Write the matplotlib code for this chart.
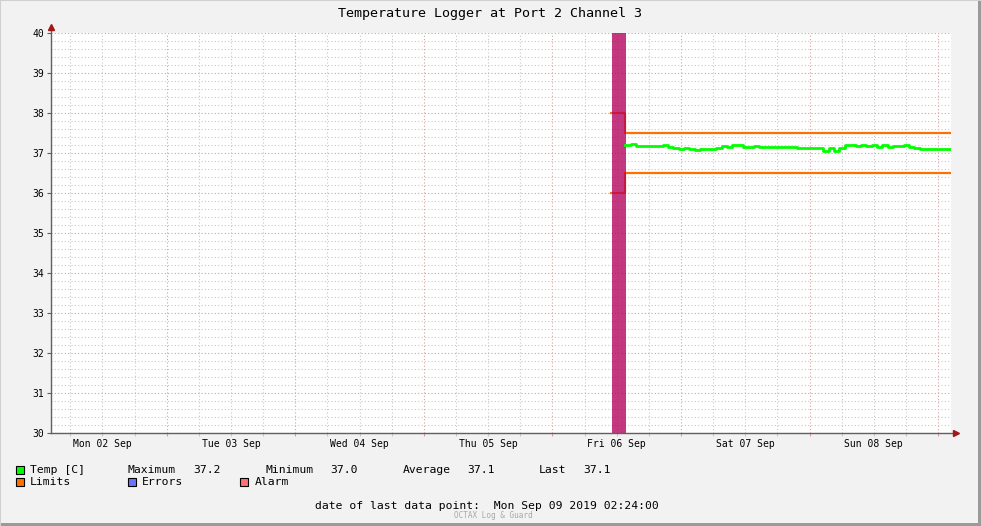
import datetime as dt

import matplotlib
matplotlib.use("Agg")
import matplotlib.pyplot as plt
import matplotlib.dates as mdates
from matplotlib.patches import Rectangle
from matplotlib.ticker import MultipleLocator, FuncFormatter, NullFormatter
import pandas as pd


# -----------------------------
# Data
# -----------------------------
TITLE = "Temperature Logger at Port 2 Channel 3"
T_START = dt.datetime(2019, 9, 2, 2, 24)
T_END = dt.datetime(2019, 9, 9, 2, 24)

# temperature, roughly hourly from Fri 06 Sep 13:35
temp_start = dt.datetime(2019, 9, 6, 13, 35)
temp_values = [
    37.21, 37.22, 37.18, 37.17, 37.17, 37.18, 37.17, 37.21, 37.15, 37.12,
    37.11, 37.12, 37.11, 37.07, 37.10, 37.09, 37.10, 37.12, 37.17, 37.16,
    37.19, 37.20, 37.15, 37.15, 37.17, 37.16, 37.15, 37.16, 37.14, 37.16,
    37.15, 37.14, 37.12, 37.13, 37.12, 37.13, 37.12, 37.04, 37.12, 37.05,
    37.12, 37.19, 37.20, 37.18, 37.19, 37.18, 37.19, 37.16, 37.19, 37.15,
    37.18, 37.17, 37.19, 37.16, 37.12, 37.11, 37.10, 37.11, 37.10, 37.11,
    37.10, 37.10,
]

# limits (step lines)
limit_times = [dt.datetime(2019, 9, 6, 10, 57), dt.datetime(2019, 9, 6, 13, 28), T_END]
limit_upper = [38.0, 37.5, 37.5]
limit_lower = [36.0, 36.5, 36.5]

# alarm period (vertical band)
alarm_start = dt.datetime(2019, 9, 6, 11, 5)
alarm_end = dt.datetime(2019, 9, 6, 13, 42)

legend_stats = ["Maximum", "37.2", "Minimum", "37.0", "Average", "37.1", "Last", "37.1"]
last_point = "date of last data point:  Mon Sep 09 2019 02:24:00"

# -----------------------------
# Styles
# -----------------------------
W, H = 981, 526
BG = "#F2F2F2"
C_TEMP = "#00FF00"
C_LIMIT = "#FF7000"
C_ERR = "#7070FF"
C_ALARM = "#FF7070"
C_BAND = "#B4005C"
C_MAJGRID = "#D8A0A0"
C_MINGRID = "#C8C8C8"
C_AXIS = "#606060"
C_ARROW = "#A01818"
FONT = "DejaVu Sans Mono"

plt.rcParams["font.family"] = FONT


def fx(px):
    return px / W


def fy(py):
    return 1 - py / H


def main():
    fig = plt.figure(figsize=(W / 100, H / 100), dpi=100, facecolor=BG)
    ax = fig.add_axes([fx(51), fy(433), 900 / W, 400 / H])
    ax.set_facecolor("white")

    temp_times = pd.date_range(temp_start, periods=len(temp_values), freq="60min")

    ax.plot(limit_times, limit_upper, color=C_LIMIT, lw=1.6, drawstyle="steps-post", zorder=3)
    ax.plot(limit_times, limit_lower, color=C_LIMIT, lw=1.6, drawstyle="steps-post", zorder=3)
    ax.axvspan(alarm_start, alarm_end, color=C_BAND, alpha=0.78, lw=0, zorder=4)
    ax.plot(temp_times, temp_values, color=C_TEMP, lw=2.0, drawstyle="steps-post", zorder=5)

    ax.set_xlim(T_START, T_END)
    ax.set_ylim(30, 40)

    # y axis
    ax.yaxis.set_major_locator(MultipleLocator(1))
    ax.yaxis.set_minor_locator(MultipleLocator(0.2))
    ax.yaxis.set_minor_formatter(NullFormatter())

    # x axis: midnight major, 6h minor, labels at noon
    ax.xaxis.set_major_locator(mdates.HourLocator(byhour=[0]))
    ax.xaxis.set_major_formatter(NullFormatter())
    ax.xaxis.set_minor_locator(mdates.HourLocator(byhour=[6, 12, 18]))

    def noon_label(v, pos):
        d = mdates.num2date(v)
        return d.strftime("%a %d %b") if d.hour == 12 else ""

    ax.xaxis.set_minor_formatter(FuncFormatter(noon_label))

    ax.set_axisbelow(True)
    grid_ls = (0, (1, 2))
    ax.grid(which="major", color=C_MAJGRID, lw=0.8, ls=grid_ls)
    ax.grid(which="minor", color=C_MINGRID, lw=0.8, ls=grid_ls)

    ax.tick_params(axis="y", which="major", length=3, width=0.8, color=C_AXIS,
                   labelsize=7, pad=2)
    ax.tick_params(axis="y", which="minor", length=0)
    ax.tick_params(axis="x", which="major", length=2.5, width=0.8, color=C_MAJGRID)
    ax.tick_params(axis="x", which="minor", length=2.5, width=0.8, color=C_MINGRID,
                   labelsize=7, pad=1.5)

    for side in ("top", "right", "left", "bottom"):
        ax.spines[side].set_visible(False)

    # axis lines with small arrows
    ax.plot([0, 0], [0, 1 + 4 / 400], transform=ax.transAxes, color=C_AXIS,
            lw=1.0, clip_on=False, zorder=6)
    ax.plot([0, 1 + 3 / 900], [0, 0], transform=ax.transAxes, color=C_AXIS,
            lw=1.0, clip_on=False, zorder=6)
    ax.plot([0], [1 + 6 / 400], transform=ax.transAxes, marker="^", ms=5,
            color=C_ARROW, clip_on=False, zorder=7)
    ax.plot([1 + 5 / 900], [0], transform=ax.transAxes, marker=">", ms=5,
            color=C_ARROW, clip_on=False, zorder=7)

    # title
    fig.text(0.5, fy(13), TITLE, ha="center", va="center", fontsize=9.6)

    # legend
    def box(px, py, color):
        fig.patches.append(Rectangle((fx(px), fy(py + 8)), 8 / W, 8 / H,
                                     transform=fig.transFigure, facecolor=color,
                                     edgecolor="black", lw=0.8))

    y1, y2 = 470, 482
    box(16, y1 - 4, C_TEMP)
    fig.text(fx(30), fy(y1), "Temp [C]", va="center", fontsize=8.2)
    stat_x = [128, 193, 265, 330, 403, 467, 539, 583]
    for sx, s in zip(stat_x, legend_stats):
        fig.text(fx(sx), fy(y1), s, va="center", fontsize=8.2)

    box(16, y2 - 4, C_LIMIT)
    fig.text(fx(30), fy(y2), "Limits", va="center", fontsize=8.2)
    box(128, y2 - 4, C_ERR)
    fig.text(fx(142), fy(y2), "Errors", va="center", fontsize=8.2)
    box(240, y2 - 4, C_ALARM)
    fig.text(fx(255), fy(y2), "Alarm", va="center", fontsize=8.2)

    fig.text(fx(315), fy(506), last_point, va="center", fontsize=8.2)
    fig.text(fx(493), fy(515.5), "OCTAX Log & Guard", ha="center", va="center",
             fontsize=5.5, color="#A8A8A8")

    # outer frame (light top/left, dark bottom/right)
    fig.add_artist(plt.Line2D([0, 0, 1], [0, 1, 1], transform=fig.transFigure,
                              color="#D0D0D0", lw=1.5))
    fig.add_artist(plt.Line2D([0, 1, 1], [fy(524.5), fy(524.5), 1],
                              transform=fig.transFigure, color="#9A9A9A", lw=0))
    fig.patches.append(Rectangle((fx(978), 0), 3 / W, 1, transform=fig.transFigure,
                                 facecolor="#9A9A9A", lw=0))
    fig.patches.append(Rectangle((0, 0), 1, 3 / H, transform=fig.transFigure,
                                 facecolor="#9A9A9A", lw=0))

    fig.savefig("out.png", dpi=100, facecolor=BG)
    plt.close(fig)


if __name__ == "__main__":
    main()
